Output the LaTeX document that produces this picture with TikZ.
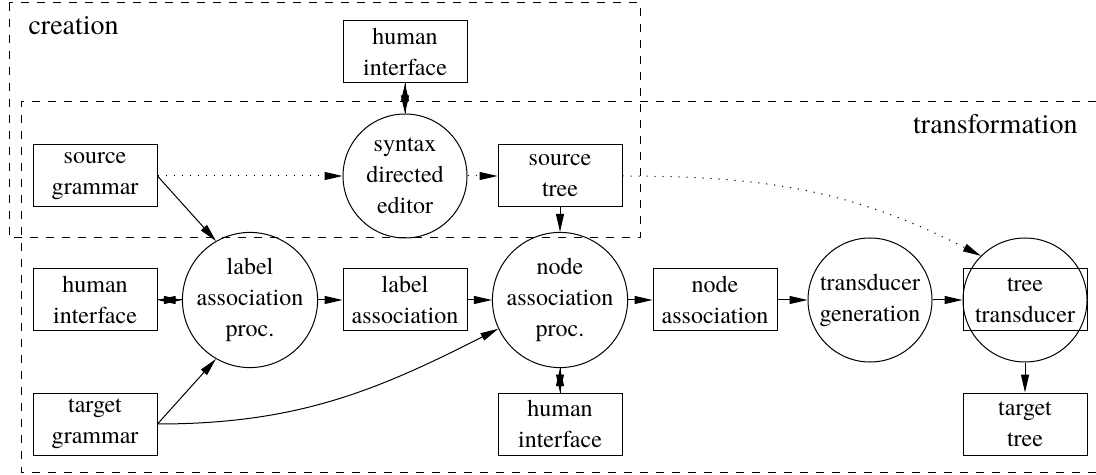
\documentclass[tikz,border=0pt]{standalone}
\usepackage{fontspec}
\setmainfont{TeX Gyre Termes}
\usetikzlibrary{arrows.meta}

\begin{document}
\begin{tikzpicture}[node distance=77.5pt, >={Triangle[length=9pt,width=4pt]}, line width=0.5pt,
	font=\fontsize{12}{15.5}\selectfont]
		
		% Styles
		\tikzstyle{block} = [draw, align=center, inner sep=0pt, minimum width=62pt, minimum height=31pt];
		\tikzstyle{proc} = [draw, circle, align=center, inner sep=0pt, minimum size=62pt];
		\tikzstyle{frame} = [dash pattern=on 4pt off 4pt];
		\tikzstyle{dots} = [dash pattern=on 0.6pt off 3.4pt];
		\tikzstyle{title} = [inner sep=0pt, font=\fontsize{14}{17}\selectfont];
		
		\useasboundingbox (0,0) rectangle (548pt,-237.5pt);
		
		% Frames
		\draw[frame] (4.5pt,-1.5pt) rectangle (320pt,-119pt);
		\draw[frame] (548pt,-51pt) -- (10.5pt,-51pt) -- (10.5pt,-236pt) -- (548pt,-236pt);
		\node[title, anchor=base west] (creat) at (14pt,-17.5pt) {creation};
		\node[title, anchor=base east] (transf) at (539pt,-67pt) {transformation};
		
		% Nodes
		\node[proc] (lap) at (125pt,-150pt) {label\\association\\proc.};
		\node[block, left of=lap] (hil) {human\\interface};
		\node[block, node distance=62pt, above of=hil] (sg) {source\\grammar};
		\node[block, node distance=62pt, below of=hil] (tg) {target\\grammar};
		
		\node[block, right of=lap] (la) {label\\association};
		\node[proc, node distance=62pt, above of=la] (sde) {syntax\\directed\\editor};
		\node[block, node distance=62pt, above of=sde] (hit) {human\\interface};
		
		\node[proc, right of=la] (nap) {node\\association\\proc.};
		\node[block, node distance=62pt, above of=nap] (st) {source\\tree};
		\node[block, node distance=62pt, below of=nap] (hib) {human\\interface};
		
		\node[block, right of=nap] (na) {node\\association};
		\node[proc, right of=na] (tgen) {transducer\\generation};
		\node[proc, right of=tgen] (ttc) {tree\\transducer};
		\node[block] (ttb) at (ttc) {};
		\node[block, node distance=62pt, below of=ttc] (tt) {target\\tree};
		
		% Arrows (two ways: one tip per direction)
		\draw[->] (hit) -- (sde);
		\draw[->] (sde) -- (hit);
		\draw[->] (hil) -- (lap);
		\draw[->] (lap) -- (hil);
		\draw[->] (nap) -- (hib);
		\draw[->] (hib) -- (nap);
		
		\draw[dots, ->] (sg) -- (sde);
		\draw[dots, ->] (sde) -- (st);
		\draw[dots, ->] (st.east) to[out=0, in=153] (ttc.135);
		\draw[->] (sg.east) -- (lap.120);
		\draw[->] (tg.east) -- (lap.240);
		\draw[->] (tg.east) to[out=0, in=207] (nap.205);
		\draw[->] (lap) -- (la);
		\draw[->] (la) -- (nap);
		\draw[->] (st) -- (nap);
		\draw[->] (nap) -- (na);
		\draw[->] (na) -- (tgen);
		\draw[->] (tgen) -- (ttc);
		\draw[->] (ttc) -- (tt);
		
	\end{tikzpicture}
\end{document}
